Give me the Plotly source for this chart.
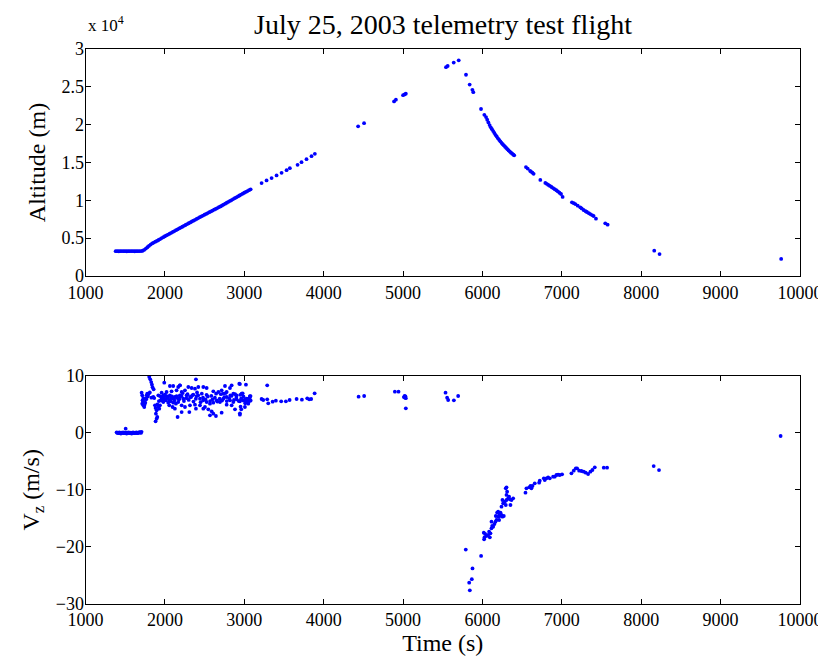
import plotly.graph_objects as go

# ---------------- Altitude data (m) ----------------
alt_time_ascent = [1380, 1400, 1420, 1440, 1460, 1480, 1500, 1520, 1540, 1560, 1580, 1600, 1620, 1640, 1660, 1680, 1700,
                   1720, 1740, 1760, 1780, 1800, 1820, 1840, 1860, 1880, 1900, 1920, 1940, 1960, 1980, 2000,
                   2020, 2040, 2060, 2080, 2100, 2120, 2140, 2160, 2180, 2200, 2220, 2240, 2260, 2280, 2300,
                   2320, 2340, 2360, 2380, 2400, 2420, 2440, 2460, 2480, 2500, 2520, 2540, 2560, 2580, 2600,
                   2620, 2640, 2660, 2680, 2700, 2720, 2740, 2760, 2780, 2800, 2820, 2840, 2860, 2880, 2900,
                   2920, 2940, 2960, 2980, 3000, 3020, 3040, 3060, 3080,
                   3218, 3281, 3344, 3407, 3470, 3533, 3574, 3671, 3721, 3784, 3847, 3889,
                   4434, 4509, 4887, 4910, 5000, 5020, 5035, 5541, 5562, 5638, 5701]
alt_ascent = [3280, 3280, 3270, 3280, 3290, 3280, 3280, 3270, 3280, 3280, 3290, 3280, 3270, 3280, 3280, 3290, 3290,
              3340, 3460, 3620, 3800, 3990, 4150, 4300, 4420, 4530, 4640, 4760, 4880, 5010, 5130, 5250,
              5370, 5480, 5600, 5710, 5830, 5940, 6060, 6170, 6290, 6400, 6510, 6630, 6740, 6860, 6970,
              7080, 7200, 7310, 7430, 7540, 7650, 7770, 7880, 7990, 8100, 8210, 8320, 8430, 8540, 8650,
              8760, 8870, 8980, 9090, 9200, 9320, 9440, 9560, 9680, 9800, 9920, 10040, 10160, 10280, 10400,
              10520, 10640, 10760, 10880, 11000, 11110, 11230, 11340, 11450,
              12280, 12630, 12940, 13290, 13640, 13990, 14250, 14690, 15040, 15440, 15830, 16140,
              19780, 20200, 23070, 23300, 23900, 24000, 24100, 27600, 27750, 28200, 28500]

alt_time_descent = [5793, 5839, 5873, 5885, 5982, 6024, 6045,
                    6060, 6075, 6090, 6105, 6120, 6135, 6150, 6165, 6180, 6195, 6210, 6225, 6240, 6255,
                    6270, 6285, 6300, 6315, 6330, 6345, 6360, 6375, 6390, 6400,
                    6548, 6570, 6600, 6611, 6630, 6645, 6729, 6792, 6810, 6830, 6850, 6870, 6890, 6910,
                    6930, 6950, 6970, 6990, 7010,
                    7127, 7150, 7170, 7200, 7232, 7250, 7274, 7300, 7316, 7340, 7358, 7380, 7400, 7430,
                    7547, 7577, 8164, 8231, 9763]
alt_descent = [26600, 25300, 24600, 24300, 22070, 21300, 21000,
               20650, 20300, 19950, 19650, 19400, 19150, 18900, 18650, 18450, 18200, 18000, 17800, 17600, 17420,
               17250, 17080, 16920, 16760, 16600, 16450, 16300, 16170, 16040, 15950,
               14400, 14200, 13900, 13800, 13650, 13500, 12700, 12300, 12180, 12040, 11900, 11760, 11620, 11480,
               11330, 11180, 11000, 10840, 10450,
               9740, 9620, 9500, 9300, 9070, 8930, 8720, 8560, 8460, 8300, 8190, 8050, 7930, 7580,
               6960, 6780, 3350, 2900, 2250]

# ---------------- Vertical velocity data (m/s) ----------------
vz_time_ground = [1392, 1401, 1410, 1419, 1428, 1437, 1446, 1455, 1464, 1473, 1482, 1491, 1500, 1506, 1509,
                  1518, 1527, 1536, 1545, 1554, 1563, 1572, 1581, 1590, 1599, 1608, 1617, 1626, 1635, 1644,
                  1653, 1662, 1671, 1680, 1689, 1698, 1706]
vz_ground = [0.1, 0.0, 0.05, -0.05, 0.1, 0.0, -0.1, 0.05, 0.0, 0.1, -0.05, 0.0, 0.05, 0.75, 0.0,
             -0.1, 0.05, 0.0, 0.1, -0.05, 0.0, 0.05, -0.1, 0.0, 0.1, 0.0, -0.05, 0.05, 0.0, 0.1,
             -0.05, 0.0, 0.05, 0.15, 0.1, 0.0, 0.2]

vz_time_ascent = [1803, 1816, 1828, 1837, 1845, 1858,
                  1707, 1715, 1728, 1719, 1715, 1728, 1740, 1753, 1761, 1770, 1778, 1791, 1728, 1744,
                  1854, 1866, 1875, 1883, 1896, 1887, 1904, 1883, 1896, 1917, 1929, 1938,
                  1917, 1938, 1959, 1980, 2000, 2021, 2042, 2063, 2084, 2105, 2126, 2147, 2168, 2189,
                  1946, 1980, 2013, 2042, 2072, 2105, 2139, 2168, 2055, 2097, 2126, 2160,
                  1992, 2063, 2105, 2168, 2189, 2147, 2084, 2021, 1959,
                  2391, 2190, 2211, 2253, 2295, 2337, 2379, 2421, 2484, 2526, 2610, 2757, 2841, 2937, 3021, 3071,
                  2190, 2232, 2274, 2316, 2358, 2400, 2442, 2484, 2526, 2568, 2610, 2652, 2694, 2736, 2778,
                  2820, 2862, 2904, 2945, 2987, 3029, 3050,
                  2211, 2253, 2316, 2379, 2442, 2505, 2547, 2589, 2610, 2643, 2568, 2715, 2778, 2841, 2883,
                  2945, 3008, 3050, 2211, 2308, 2391, 2484,
                  2778, 2820, 2862, 2904, 2966, 2736, 2715, 2673,
                  2945, 2979, 2966, 2995, 3012, 3029, 3046, 3071, 3079, 3063, 2953, 2962, 2945, 3012,
                  2000, 2030, 2060, 2090, 2120, 2150, 2180, 2210, 2240, 2270, 2300, 2330, 2360, 2390,
                  2420, 2450, 2480, 2510, 2540, 2570, 2600, 2630, 2660, 2690, 2720, 2750, 2780, 2810,
                  2840, 2870, 2900, 2930, 2960, 2990, 3020, 3050, 3080, 3070, 1960, 1975, 1990,
                  2225, 2285, 2345, 2405, 2465, 2525, 2585, 2645, 2705, 2765, 2825, 2885, 2950,
                  1765, 1785, 1810, 1830, 1905, 1925,
                  3218, 3239, 3289, 3289, 3302, 3357, 3398, 3465, 3524, 3571, 3659, 3726, 3793, 3818,
                  3843, 3886, 4440, 4510, 4897, 4943, 5010, 5020, 5025, 5030, 5035, 5035,
                  5535, 5555, 5568, 5640, 5694]
vz_ascent = [9.82, 9.41, 8.94, 8.48, 8.01, 7.66,
             7.07, 6.6, 6.13, 5.72, 5.14, 4.85, 4.55, 5.31, 6.02, 6.6, 6.9, 6.78, 5.55, 4.96,
             6.31, 6.13, 4.85, 4.38, 3.97, 3.38, 2.8, 2.04, 2.5, 4.55, 4.26, 4.85,
             6.60, 6.48, 6.31, 6.60, 6.72, 6.48, 6.31, 6.60, 6.13, 6.02, 6.31, 6.48, 6.02, 6.60,
             5.72, 5.43, 5.72, 5.31, 5.55, 5.31, 5.14, 5.43, 4.85, 4.55, 4.26, 2.80,
             8.83, 8.24, 8.24, 8.07, 8.36, 7.48, 7.30, 7.19, 7.07,
             9.41, 8.36, 7.19, 7.48, 8.07, 7.89, 7.77, 8.07, 8.07, 7.89, 7.30, 8.24, 8.36, 8.65, 8.48, 6.48,
             6.31, 6.02, 6.60, 6.31, 6.72, 6.48, 6.02, 5.72, 5.43, 5.14, 5.31, 5.72, 5.43, 6.02, 6.31,
             5.72, 5.43, 5.90, 5.55, 5.72, 6.02, 5.31,
             4.85, 4.55, 4.85, 4.96, 4.85, 4.55, 4.14, 3.79, 3.38, 2.97, 3.09, 3.56, 4.96, 4.85, 4.14,
             3.21, 4.55, 5.14, 3.67, 3.67, 4.26, 4.26,
             7.19, 7.89, 6.90, 6.60, 6.90, 6.90, 7.48, 7.19,
             8.59, 6.95, 5.90, 5.66, 5.90, 5.49, 5.78, 5.66, 6.48, 6.07, 4.61, 4.14, 3.44, 5.20,
             5.9, 6.1, 5.8, 6.4, 5.7, 6.2, 5.9, 6.5, 5.6, 6.1, 5.8, 6.3, 5.5, 6.0,
             6.6, 5.4, 6.2, 5.9, 6.4, 5.6, 5.9, 6.2, 5.5, 6.0, 5.7, 6.3, 5.6, 6.1,
             6.5, 5.8, 6.3, 5.6, 6.0, 6.4, 5.8, 6.0, 5.7, 6.3, 6.0, 5.6, 6.2,
             7.0, 6.8, 6.6, 7.1, 6.9, 6.7, 6.5, 6.9, 6.8, 7.0, 6.6, 6.8, 6.7,
             5.9, 6.4, 7.1, 6.2, 5.0, 5.6,
             5.96, 5.78, 8.36, 5.9, 5.2, 5.49, 5.66, 5.55, 5.55, 5.78, 5.96, 5.84, 6.08, 5.9,
             5.96, 6.96, 6.37, 6.49, 7.24, 7.24, 6.3, 6.5, 6.2, 6.4, 6.1, 4.32,
             7.07, 6.19, 5.78, 5.72, 6.49]

vz_time_descent = [5790, 5983, 5875, 5866, 5833, 5841,
                   6017, 6034, 6026, 6021, 6051, 6072, 6093, 6101, 6084, 6114, 6122, 6114, 6135, 6151,
                   6164, 6177, 6168, 6185, 6198, 6210, 6227, 6219, 6240, 6252, 6269, 6210, 6198,
                   6240, 6261, 6252, 6282, 6303, 6324, 6336, 6345, 6366, 6387, 6353, 6294, 6303, 6311,
                   6294, 6303,
                   6542, 6554, 6588, 6605, 6617, 6630, 6659, 6714, 6722, 6773, 6785, 6806, 6827, 6848,
                   6890, 6911, 6932, 6953, 6974, 7003,
                   7121, 7150, 7176, 7192, 7218, 7247, 7276, 7301, 7331, 7360, 7385, 7415, 7528, 7570,
                   8157, 8224, 9756]
vz_descent = [-20.5, -21.6, -23.8, -25.7, -26.3, -27.65,
              -17.52, -17.75, -18.34, -18.69, -18.1, -17.93, -18.34, -17.64, -17.34, -16.76, -16.35, -15.59,
              -16.47, -16.0, -15.59, -15.3, -14.59, -14.0, -13.83, -14.12, -14.0, -14.59, -14.42, -14.71,
              -14.59, -15.3, -14.71,
              -12.95, -12.37, -11.78, -12.07, -11.78, -11.49, -11.2, -11.66, -11.78, -11.49, -12.66, -12.66,
              -10.9, -10.32, -9.73, -9.56,
              -10.49, -9.73, -9.56, -9.32, -9.73, -9.32, -8.85, -8.74, -8.39, -7.98, -8.27, -7.98, -7.8,
              -7.98, -7.68, -7.68, -7.39, -7.33, -7.39, -7.27,
              -7.1, -6.63, -6.22, -6.22, -6.63, -6.69, -6.81, -6.98, -7.22, -6.81, -6.51, -6.04, -6.1, -6.1,
              -5.82, -6.52, -0.54]

alt_ticks = [0, 5000, 10000, 15000, 20000, 25000, 30000]
alt_tick_text = ["0", "0.5", "1", "1.5", "2", "2.5", "3"]
vz_ticks = [-30, -20, -10, 0, 10]
vz_tick_text = ["\u221230", "\u221220", "\u221210", "0", "10"]
time_ticks = [1000, 2000, 3000, 4000, 5000, 6000, 7000, 8000, 9000, 10000]
time_tick_text = ["1000", "2000", "3000", "4000", "5000", "6000", "7000", "8000", "9000", "10000"]

W, H = 826, 656
OFF = 8  # page body margin in the browser
FONT = "Liberation Serif"
BLUE = "#0000ff"
marker = dict(color=BLUE, size=3.8, line=dict(width=0))


def fx(px):
    return (px - OFF) / W


def fy(py):
    return 1 - (py - OFF) / H


fig = go.Figure()
fig.add_trace(go.Scatter(x=alt_time_ascent, y=alt_ascent, mode="markers", marker=marker,
                         xaxis="x", yaxis="y", showlegend=False))
fig.add_trace(go.Scatter(x=alt_time_descent, y=alt_descent, mode="markers", marker=marker,
                         xaxis="x", yaxis="y", showlegend=False))
fig.add_trace(go.Scatter(x=vz_time_ground, y=vz_ground, mode="markers", marker=marker,
                         xaxis="x2", yaxis="y2", showlegend=False))
fig.add_trace(go.Scatter(x=vz_time_ascent, y=vz_ascent, mode="markers", marker=marker,
                         xaxis="x2", yaxis="y2", showlegend=False))
fig.add_trace(go.Scatter(x=vz_time_descent, y=vz_descent, mode="markers", marker=marker,
                         xaxis="x2", yaxis="y2", showlegend=False))

x0, x1 = fx(85.5), fx(800)
top_dom = [fy(276), fy(49)]
bot_dom = [fy(603.7), fy(376)]

axis_common = dict(showline=True, linecolor="black", linewidth=1, mirror="ticks",
                   ticks="inside", ticklen=5, tickcolor="black", tickwidth=1,
                   showgrid=False, zeroline=False, automargin=False,
                   tickfont=dict(family=FONT, size=18, color="black"))

fig.update_layout(
    width=W, height=H, autosize=False,
    margin=dict(l=0, r=0, t=0, b=0),
    paper_bgcolor="white", plot_bgcolor="white",
    font=dict(family=FONT, color="black"),
    xaxis=dict(domain=[x0, x1], range=[1000, 10000], tickvals=time_ticks, ticktext=time_tick_text,
               anchor="y", ticklabelstandoff=0, **axis_common),
    yaxis=dict(domain=top_dom, range=[0, 30000], tickvals=alt_ticks, ticktext=alt_tick_text, anchor="x",
               ticklabelstandoff=-3,
               title=dict(text="Altitude (m)", font=dict(family=FONT, size=24), standoff=9),
               **axis_common),
    xaxis2=dict(domain=[x0, x1], range=[1000, 10000], tickvals=time_ticks, ticktext=time_tick_text,
                anchor="y2", ticklabelstandoff=0,
                title=dict(text="Time (s)", font=dict(family=FONT, size=24), standoff=0),
                **axis_common),
    yaxis2=dict(domain=bot_dom, range=[-30, 10], tickvals=vz_ticks, ticktext=vz_tick_text, anchor="x2",
                ticklabelstandoff=-3,
                title=dict(text="V<sub>z</sub> (m/s)", font=dict(family=FONT, size=24), standoff=9),
                **axis_common),
    annotations=[
        dict(text="July 25, 2003 telemetry test flight", xref="paper", yref="paper",
             x=(x0 + x1) / 2, y=fy(24), xanchor="center", yanchor="middle", showarrow=False,
             font=dict(family=FONT, size=28, color="black")),
        dict(text="x 10<sup>4</sup>", xref="paper", yref="paper",
             x=x0, y=fy(37), xanchor="left", yanchor="bottom", showarrow=False,
             font=dict(family=FONT, size=17, color="black")),
    ],
)

fig.write_html("out.html")
